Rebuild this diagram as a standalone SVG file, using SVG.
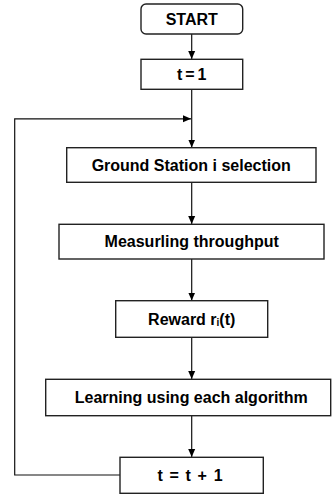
<svg xmlns="http://www.w3.org/2000/svg" width="332" height="498" viewBox="0 0 332 498">
<style>
.box{fill:#fff;stroke:#222;stroke-width:1.4}
.lbl{font-family:"Liberation Sans",Arial,sans-serif;font-weight:bold;font-size:16px;fill:#000;text-anchor:middle;dominant-baseline:central}
.con{fill:none;stroke:#111;stroke-width:1.2}
</style>
<defs>
<marker id="ah" markerWidth="8" markerHeight="8" viewBox="0 0 8 8" refX="8" refY="4" orient="auto" markerUnits="userSpaceOnUse">
<path d="M0,0.5 L8,4 L0,7.5 Z" fill="#000"/>
</marker>
</defs>
<rect width="332" height="498" fill="#fff"/>
<g id="connectors">
<line class="con" x1="191.7" y1="34" x2="191.7" y2="59" marker-end="url(#ah)"/>
<line class="con" x1="191.7" y1="89.3" x2="191.7" y2="147.5" marker-end="url(#ah)"/>
<line class="con" x1="191.7" y1="182.3" x2="191.7" y2="224" marker-end="url(#ah)"/>
<line class="con" x1="191.7" y1="259" x2="191.7" y2="300.5" marker-end="url(#ah)"/>
<line class="con" x1="191.7" y1="337.3" x2="191.7" y2="379" marker-end="url(#ah)"/>
<line class="con" x1="191.7" y1="415.7" x2="191.7" y2="457" marker-end="url(#ah)"/>
<polyline class="con" points="120,475 14.7,475 14.7,118.8 191,118.8" marker-end="url(#ah)"/>
</g>
<g id="start">
<rect class="box" x="141" y="4" width="101.7" height="30" rx="5"/>
<text class="lbl" x="191.7" y="19">START</text>
</g>
<g id="t1">
<rect class="box" x="141" y="59.3" width="101.7" height="30"/>
<text class="lbl" x="191.7" y="74.3" word-spacing="-1.5">t = 1</text>
</g>
<g id="gs">
<rect class="box" x="66.7" y="147.7" width="249.3" height="34.6"/>
<text class="lbl" x="191.2" y="165">Ground Station i selection</text>
</g>
<g id="meas">
<rect class="box" x="59" y="224.3" width="265" height="34.7"/>
<text class="lbl" x="191.7" y="241.7">Measurling throughput</text>
</g>
<g id="reward">
<rect class="box" x="115.7" y="300.7" width="152" height="36.6"/>
<text class="lbl" x="191.7" y="319">Reward r<tspan font-size="10px" dy="3">i</tspan><tspan dy="-3">(t)</tspan></text>
</g>
<g id="learn">
<rect class="box" x="45.7" y="379.3" width="285" height="36.4"/>
<text class="lbl" x="191.2" y="397.5">Learning using each algorithm</text>
</g>
<g id="inc">
<rect class="box" x="120" y="457.3" width="143.3" height="36"/>
<text class="lbl" x="190" y="475.3" word-spacing="2.3">t = t + 1</text>
</g>
</svg>
